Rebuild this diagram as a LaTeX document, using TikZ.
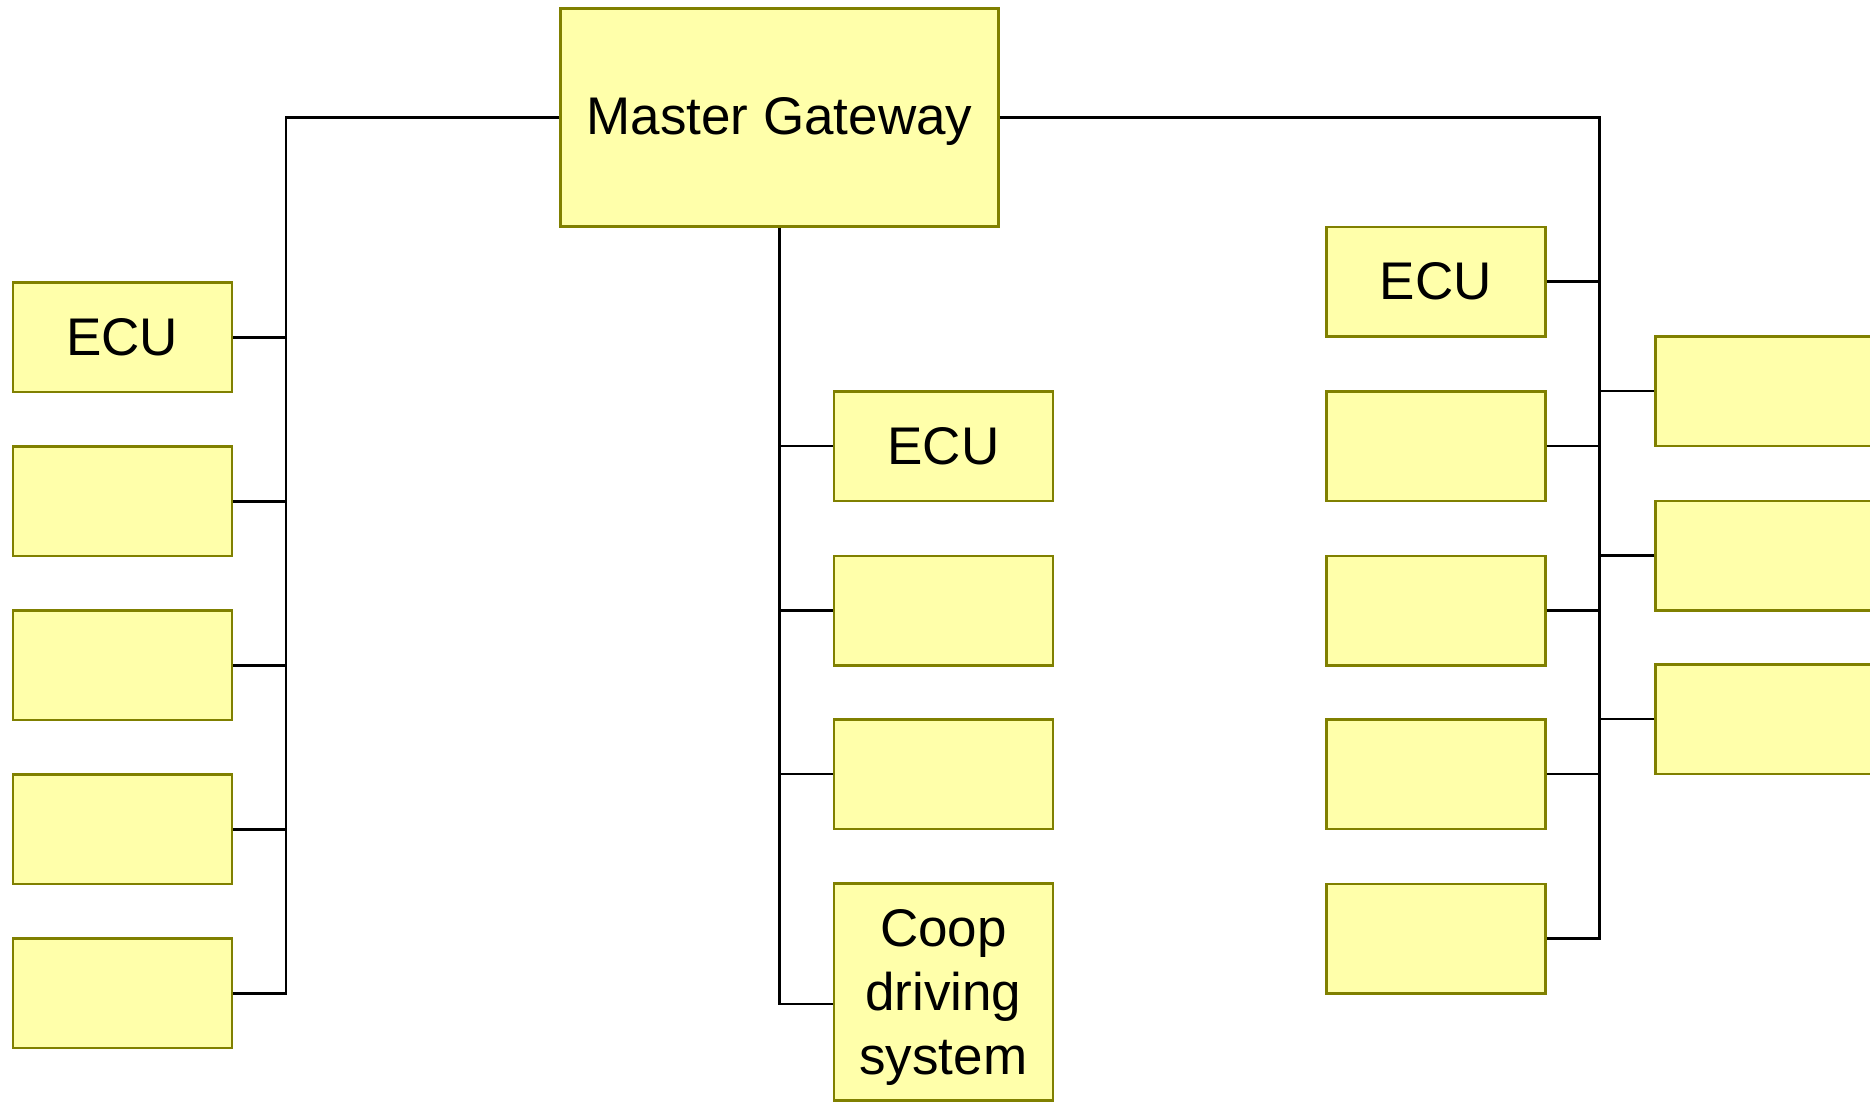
\documentclass[tikz,border=0pt]{standalone}
\usepackage{fontspec}
\setmainfont{Liberation Sans}
\definecolor{boxfill}{HTML}{FFFFAA}
\definecolor{boxline}{HTML}{808000}
\begin{document}
\begin{tikzpicture}[x=1pt,y=-1pt,
  unit/.style={draw=boxline, fill=boxfill, line width=2.5pt, minimum width=219pt,
    minimum height=109.5pt, inner sep=0pt, font=\fontsize{53}{64}\selectfont, align=center},
  link/.style={draw=black, line width=2.5pt}]
\useasboundingbox (0,0) rectangle (1870,1102);
\clip (0,0) rectangle (1870,1102);
% master
\node[unit, minimum width=437.7pt, minimum height=218.3pt] (mg) at (779.4,117.5) {\rule{0pt}{45pt}Master Gateway};
% left column
\node[unit] (L1) at (122.3,337.3) {ECU};
\node[unit] (L2) at (122.3,501.3) {};
\node[unit] (L3) at (122.3,665.3) {};
\node[unit] (L4) at (122.3,829.3) {};
\node[unit] (L5) at (122.3,993.3) {};
% middle column
\node[unit] (M1) at (943.4,446) {ECU};
\node[unit] (M2) at (943.4,610.6) {};
\node[unit] (M3) at (943.4,774) {};
\node[unit, minimum height=216.8pt] (coop) at (943.4,992.1) {\rule{0pt}{47pt}Coop\\driving\\system};
% right inner column
\node[unit] (R1) at (1435.9,281.5) {ECU};
\node[unit] (R2) at (1435.9,446) {};
\node[unit] (R3) at (1435.9,610.6) {};
\node[unit] (R4) at (1435.9,774) {};
\node[unit] (R5) at (1435.9,938.6) {};
% right outer column
\node[unit] (O1) at (1765,391.2) {};
\node[unit] (O2) at (1765,555.7) {};
\node[unit] (O3) at (1765,719.1) {};
% buses
\coordinate (lbus) at (286.2,0);
\coordinate (rbus) at (1599.3,0);
\coordinate (cjoin) at (779.4,1004.2);
\draw[link] (mg.west) -| (lbus |- L5.east) -- (L5.east);
\foreach \n in {L1,L2,L3,L4} \draw[link] (\n.east) -- (\n.east -| lbus);
\draw[link] (mg.east) -| (rbus |- R5.east) -- (R5.east);
\foreach \n in {R1,R2,R3,R4} \draw[link] (\n.east) -- (\n.east -| rbus);
\foreach \n in {O1,O2,O3} \draw[link] (\n.west) -- (\n.west -| rbus);
\draw[link] (mg.south) -- (cjoin) -- (cjoin -| coop.west);
\foreach \n in {M1,M2,M3} \draw[link] (\n.west) -- (\n.west -| mg.south);
\end{tikzpicture}
\end{document}
